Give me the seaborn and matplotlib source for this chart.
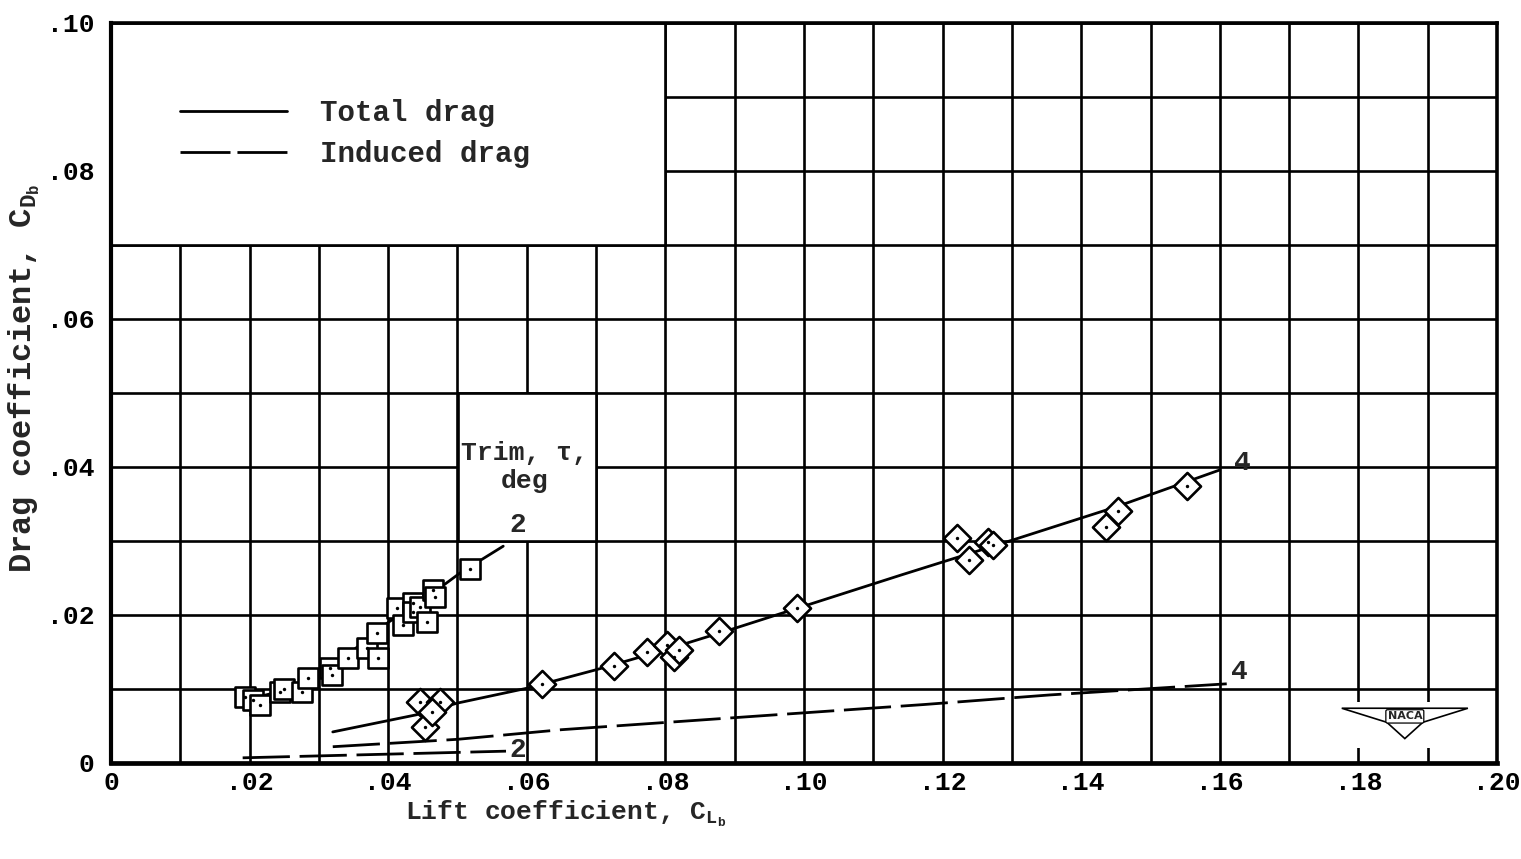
import numpy as np
import pandas as pd
import matplotlib
matplotlib.use("Agg")
import matplotlib.pyplot as plt
import seaborn as sns
from matplotlib.lines import Line2D
from matplotlib.patches import Rectangle, Polygon
from matplotlib.ticker import FixedLocator, FixedFormatter

# ---------------- data ----------------
# Trim 2 deg (square symbols)
trim2_cl = [0.0193, 0.0205, 0.0215, 0.0244, 0.0250, 0.0276, 0.0284, 0.0316, 0.0319,
            0.0342, 0.0369, 0.0385, 0.0384, 0.0413, 0.0421, 0.0436, 0.0436, 0.0446,
            0.0456, 0.0465, 0.0468, 0.0518]
trim2_cd = [0.0089, 0.0085, 0.0078, 0.0096, 0.0100, 0.0096, 0.0115, 0.0128, 0.0119,
            0.0142, 0.0155, 0.0142, 0.0176, 0.0209, 0.0186, 0.0216, 0.0204, 0.0211,
            0.0190, 0.0234, 0.0224, 0.0262]
# Trim 4 deg (diamond symbols)
trim4_cl = [0.0446, 0.0475, 0.0453, 0.0463, 0.0622, 0.0726, 0.0773, 0.0803, 0.0812,
            0.0820, 0.0878, 0.0990, 0.1221, 0.1238, 0.1265, 0.1273, 0.1436, 0.1453,
            0.1552]
trim4_cd = [0.0082, 0.0082, 0.0049, 0.0069, 0.0107, 0.0131, 0.0150, 0.0160, 0.0143,
            0.0153, 0.0178, 0.0209, 0.0304, 0.0274, 0.0298, 0.0294, 0.0319, 0.0341,
            0.0375]

# Faired curves: total drag
total2_cl = [0.0193, 0.0250, 0.0273, 0.0300, 0.0345, 0.0400, 0.0465, 0.0504, 0.0566]
total2_cd = [0.0085, 0.0098, 0.0108, 0.0120, 0.0149, 0.0190, 0.0230, 0.0257, 0.0293]
total4_cl = [0.032, 0.044, 0.050, 0.060, 0.070, 0.080, 0.090, 0.100, 0.114, 0.130, 0.145, 0.160]
total4_cd = [0.0042, 0.0065, 0.0081, 0.0101, 0.0126, 0.0153, 0.0182, 0.0212, 0.0254, 0.0301, 0.0346, 0.0396]
# Faired curves: induced drag
induced2_cl = [0.019, 0.057]
induced2_cd = [0.0007, 0.0016]
induced4_cl = [0.032, 0.050, 0.065, 0.0957, 0.1173, 0.1355, 0.161]
induced4_cd = [0.0022, 0.0032, 0.0045, 0.0065, 0.0079, 0.0092, 0.0107]

x_ticks = [0.00, 0.02, 0.04, 0.06, 0.08, 0.10, 0.12, 0.14, 0.16, 0.18, 0.20]
x_tick_labels = ["0", ".02", ".04", ".06", ".08", ".10", ".12", ".14", ".16", ".18", ".20"]
y_ticks = [0.00, 0.02, 0.04, 0.06, 0.08, 0.10]
y_tick_labels = ["0", ".02", ".04", ".06", ".08", ".10"]
legend_labels = ["Total drag", "Induced drag"]

# ---------------- style ----------------
sns.set_style("white")
FONT = ["Liberation Mono", "DejaVu Sans Mono"]
plt.rcParams["font.family"] = FONT
plt.rcParams["font.weight"] = "bold"
plt.rcParams["mathtext.fontset"] = "custom"
plt.rcParams["mathtext.rm"] = "Liberation Mono:bold"
plt.rcParams["mathtext.it"] = "Liberation Mono:bold"
plt.rcParams["mathtext.bf"] = "Liberation Mono:bold"

W, H = 1521, 859
fig = plt.figure(figsize=(W / 100, H / 100), dpi=100)
ax = fig.add_axes([111 / W, 1 - 763 / H, (1497 - 111) / W, (763 - 23) / H])

ax.set_xlim(0, 0.20)
ax.set_ylim(0, 0.10)

# grid (graph paper, every 0.01)
ax.xaxis.set_major_locator(FixedLocator(x_ticks))
ax.xaxis.set_major_formatter(FixedFormatter(x_tick_labels))
ax.yaxis.set_major_locator(FixedLocator(y_ticks))
ax.yaxis.set_major_formatter(FixedFormatter(y_tick_labels))
ax.xaxis.set_minor_locator(FixedLocator(np.arange(0.01, 0.20, 0.02)))
ax.yaxis.set_minor_locator(FixedLocator(np.arange(0.01, 0.10, 0.02)))
ax.set_axisbelow(True)
ax.grid(which="both", color="black", lw=1.9)
ax.tick_params(which="both", length=0, labelsize=19, colors="black")
ax.tick_params(axis="x", pad=6)
ax.tick_params(axis="y", pad=12)
for lab in ax.get_xticklabels() + ax.get_yticklabels():
    lab.set_fontweight("bold")

for side, sp in ax.spines.items():
    sp.set_color("black")
    sp.set_linewidth(2.6)
ax.spines["bottom"].set_linewidth(3.4)
ax.spines["left"].set_linewidth(3.0)

# blank areas of the graph paper
ax.add_patch(Rectangle((0.0, 0.07), 0.08, 0.03, fc="white", ec="black", lw=1.9, zorder=1))
ax.add_patch(Rectangle((0.05, 0.03), 0.02, 0.02, fc="white", ec="black", lw=1.9, zorder=1))
ax.add_patch(Rectangle((0.1765, 0.0020), 0.0205, 0.0063, fc="white", ec="none", zorder=1))

# curves
lw = 2.0
dash = (0, (17, 3.5))
sns.lineplot(x=total2_cl, y=total2_cd, color="black", lw=lw, sort=False, estimator=None, ax=ax, zorder=2)
sns.lineplot(x=total4_cl, y=total4_cd, color="black", lw=lw, sort=False, estimator=None, ax=ax, zorder=2)
sns.lineplot(x=induced2_cl, y=induced2_cd, color="black", lw=lw, linestyle=dash, sort=False, estimator=None, ax=ax, zorder=2)
sns.lineplot(x=induced4_cl, y=induced4_cd, color="black", lw=lw, linestyle=dash, sort=False, estimator=None, ax=ax, zorder=2)

# symbols
sns.scatterplot(x=trim2_cl, y=trim2_cd, marker="s", s=190, color="white", edgecolor="black",
                linewidth=1.9, ax=ax, zorder=3)
sns.scatterplot(x=trim4_cl, y=trim4_cd, marker="D", s=190, color="white", edgecolor="black",
                linewidth=1.9, ax=ax, zorder=3)
sns.scatterplot(x=trim2_cl + trim4_cl, y=trim2_cd + trim4_cd, marker="o", s=6, color="black",
                linewidth=0, ax=ax, zorder=4)

# curve labels
lab_kw = dict(fontsize=20, fontweight="bold", ha="center", va="center", zorder=5)
ax.text(0.0587, 0.0322, "2", **lab_kw)
ax.text(0.1632, 0.0405, "4", **lab_kw)
ax.text(0.1628, 0.0123, "4", **lab_kw)
ax.text(0.0587, 0.0018, "2", **lab_kw)
ax.text(0.0597, 0.0400, "Trim, τ,\ndeg", fontsize=19, fontweight="bold", ha="center",
        va="center", multialignment="center", linespacing=1.2, zorder=5)

# NACA emblem
ax.add_patch(Polygon([(0.1776, 0.0074), (0.1958, 0.0074), (0.1893, 0.0055), (0.1867, 0.0033),
                      (0.1841, 0.0055)], closed=True, fill=False, ec="black", lw=1.2, zorder=2))
ax.text(0.1867, 0.0063, "NACA", fontsize=8, ha="center", va="center", zorder=3,
        family=["DejaVu Sans"], bbox=dict(boxstyle="round,pad=0.15", fc="white", ec="black", lw=0.9))

# legend
handles = [Line2D([], [], color="black", lw=lw),
           Line2D([], [], color="black", lw=lw, linestyle=(0, (18, 2.5)))]
leg = ax.legend(handles, legend_labels, loc="upper left", bbox_to_anchor=(0.0498, 0.897),
                frameon=False, fontsize=21, handlelength=3.67, handletextpad=1.13,
                labelspacing=0.45, borderpad=0, borderaxespad=0)
for t in leg.get_texts():
    t.set_fontweight("bold")

# axis labels
ax.set_xlabel(r"Lift coefficient, $\mathrm{C}_{\mathrm{L}_{\mathrm{b}}}$", fontsize=19, fontweight="bold")
ax.xaxis.set_label_coords(0.328, -0.048)
ax.set_ylabel(r"Drag coefficient, $\mathrm{C}_{\mathrm{D}_{\mathrm{b}}}$", fontsize=23, fontweight="bold")
ax.yaxis.set_label_coords(-0.050, 0.52)

fig.savefig("out.png", dpi=100, facecolor="white")
